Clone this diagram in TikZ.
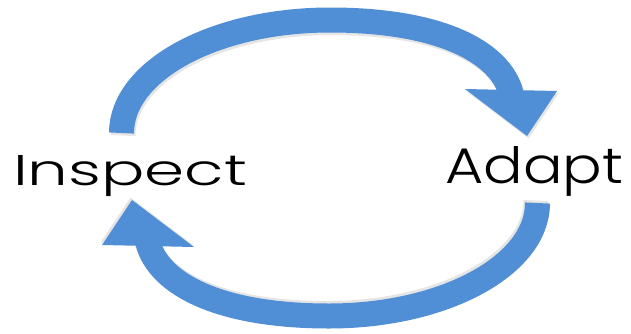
\documentclass[tikz,border=0pt]{standalone}
\usepackage{fontspec}
\setmainfont{Poppins}[UprightFont=* Light]
\usepackage{graphicx}
\definecolor{arrowblue}{RGB}{80,142,214}
\begin{document}
\begin{tikzpicture}[x=1pt,y=-1pt,
  shaft/.style={draw=arrowblue,line width=25pt,line cap=butt},
  head/.style={fill=arrowblue},
  shadowshaft/.style={draw=black,opacity=0.10,line width=25pt,line cap=butt},
  shadowhead/.style={fill=black,opacity=0.10},
  lbl/.style={inner sep=0pt,anchor=base west,text=black}]
\useasboundingbox (0,0) rectangle (631,333);
\fill[white] (0,0) rectangle (631,333);
\foreach \r in {0,180}{
  \begin{scope}[rotate around={\r:(329.5,168)}]
    \coordinate (s) at (121.5,133);
    \coordinate (top) at (330,20);
    \coordinate (e) at (512,98);
    \coordinate (hl) at (465,89);
    \coordinate (hr) at (557,91);
    \coordinate (tip) at (527,136);
    \begin{scope}[shift={(1.5,2.5)}]
      \draw[shadowshaft] (121.5,133) .. controls (121.5,70.6) and (214.9,20) .. (330,20)
        .. controls (445,20) and (505,55) .. (512,98);
      \fill[shadowhead] (465,89) -- (557,91) -- (527,136) -- cycle;
    \end{scope}
    \draw[shaft] (s) .. controls (121.5,70.6) and (214.9,20) .. (top)
      .. controls (445,20) and (505,55) .. (e);
    \fill[head] (hl) -- (hr) -- (tip) -- cycle;
  \end{scope}
}
\node[lbl] (inspect) at (13,185) {\resizebox{234pt}{30pt}{Inspect}};
\node[lbl] (adapt) at (445,183) {\resizebox{178pt}{37pt}{Adapt}};
\end{tikzpicture}
\end{document}
